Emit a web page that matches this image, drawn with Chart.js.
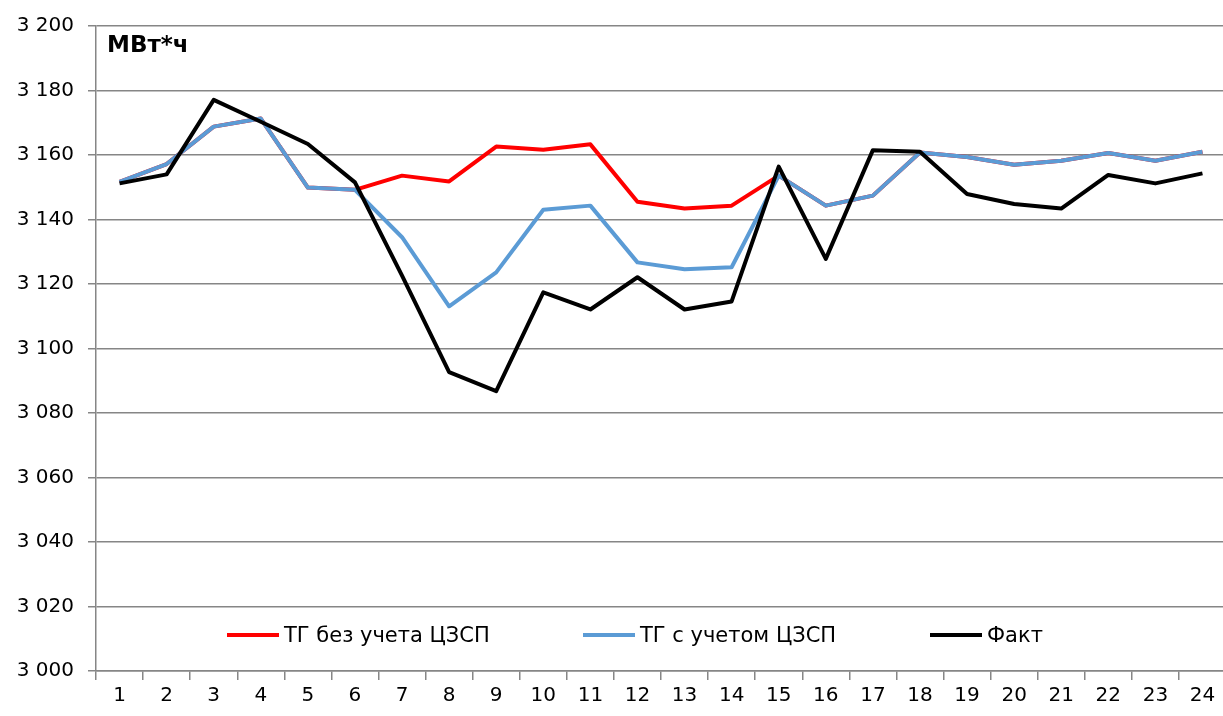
<!DOCTYPE html>
<html lang="ru">
<head>
<meta charset="UTF-8">
<title>МВт*ч</title>
<script src="https://cdn.jsdelivr.net/npm/chart.js"></script>
<style>
    html, body { margin: 0; padding: 0; background: #fff; overflow: hidden; }
    #wrap { position: relative; width: 1226px; height: 716px; }
    #unit { position: absolute; left: 107px; top: 31px; font: bold 23px "DejaVu Sans", sans-serif; color: #000; }
    .leg { position: absolute; top: 622px; height: 26px; font: 21px "DejaVu Sans", sans-serif; color: #000; display: flex; align-items: center; white-space: nowrap; }
    .leg span.ln { display: inline-block; width: 52px; height: 4px; margin-right: 5px; }
</style>
</head>
<body>
<div id="wrap">
    <canvas id="chart"></canvas>
    <div id="unit">МВт*ч</div>
    <div class="leg" style="left:227px"><span class="ln" style="background:#ff0000"></span>ТГ без учета ЦЗСП</div>
    <div class="leg" style="left:583px"><span class="ln" style="background:#5b9bd5"></span>ТГ с учетом ЦЗСП</div>
    <div class="leg" style="left:930px"><span class="ln" style="background:#000"></span>Факт</div>
</div>

<script>
    // часы суток
    const hours = ['1','2','3','4','5','6','7','8','9','10','11','12','13','14','15','16','17','18','19','20','21','22','23','24'];

    // ТГ без учета ЦЗСП
    const tgWithout = [3151.7, 3157.2, 3168.8, 3171.3, 3149.9, 3149.2, 3153.6, 3151.8, 3162.6, 3161.6, 3163.3, 3145.5,
                       3143.4, 3144.3, 3153.6, 3144.3, 3147.4, 3160.8, 3159.4, 3157.0, 3158.2, 3160.6, 3158.2, 3161.0];
    // ТГ с учетом ЦЗСП
    const tgWith = [3151.7, 3157.2, 3168.8, 3171.3, 3149.9, 3149.2, 3134.5, 3113.1, 3123.6, 3143.0, 3144.3, 3126.7,
                    3124.6, 3125.2, 3153.6, 3144.3, 3147.4, 3160.8, 3159.4, 3157.0, 3158.2, 3160.6, 3158.2, 3161.0];
    // Факт
    const fact = [3151.2, 3154.0, 3177.1, 3170.3, 3163.4, 3151.5, 3122.6, 3092.7, 3086.8, 3117.4, 3112.1, 3122.1,
                  3112.1, 3114.6, 3156.4, 3127.8, 3161.5, 3161.0, 3147.9, 3144.8, 3143.4, 3153.8, 3151.2, 3154.3];

    const yMin = 3000, yMax = 3200, yStep = 20;

    const fmt = v => String(v).replace(/\B(?=(\d{3})+(?!\d))/g, ' ');
    const gridColor = '#868686';

    const canvas = document.getElementById('chart');
    canvas.width = 1226;
    canvas.height = 716;

    new Chart(canvas.getContext('2d'), {
        type: 'line',
        data: {
            labels: hours,
            datasets: [
                { label: 'Факт', data: fact, borderColor: '#000000', order: 0 },
                { label: 'ТГ с учетом ЦЗСП', data: tgWith, borderColor: '#5b9bd5', order: 1 },
                { label: 'ТГ без учета ЦЗСП', data: tgWithout, borderColor: '#ff0000', order: 2 }
            ]
        },
        options: {
            responsive: false,
            animation: false,
            devicePixelRatio: 1,
            layout: { padding: { top: 25, right: 0, left: 0, bottom: 0 } },
            elements: {
                line: { borderWidth: 4, tension: 0, borderJoinStyle: 'round' },
                point: { radius: 0, hoverRadius: 0 }
            },
            plugins: { legend: { display: false }, tooltip: { enabled: false } },
            scales: {
                x: {
                    offset: true,
                    afterFit: s => { s.height = 45; },
                    grid: { offset: true, drawOnChartArea: false, drawTicks: true, tickLength: 9, color: gridColor, lineWidth: 1.5 },
                    border: { display: true, color: gridColor, width: 1.5 },
                    ticks: { color: '#000', font: { family: 'DejaVu Sans', size: 20 }, padding: 4, maxRotation: 0, autoSkip: false }
                },
                y: {
                    min: yMin,
                    max: yMax,
                    afterFit: s => { s.width = 96; },
                    grid: { color: gridColor, lineWidth: 1.5, drawTicks: true, tickLength: 8 },
                    border: { display: true, color: gridColor, width: 1.5 },
                    ticks: { stepSize: yStep, color: '#000', font: { family: 'DejaVu Sans', size: 20 }, padding: 14, callback: v => fmt(v) }
                }
            }
        }
    });
</script>
</body>
</html>
